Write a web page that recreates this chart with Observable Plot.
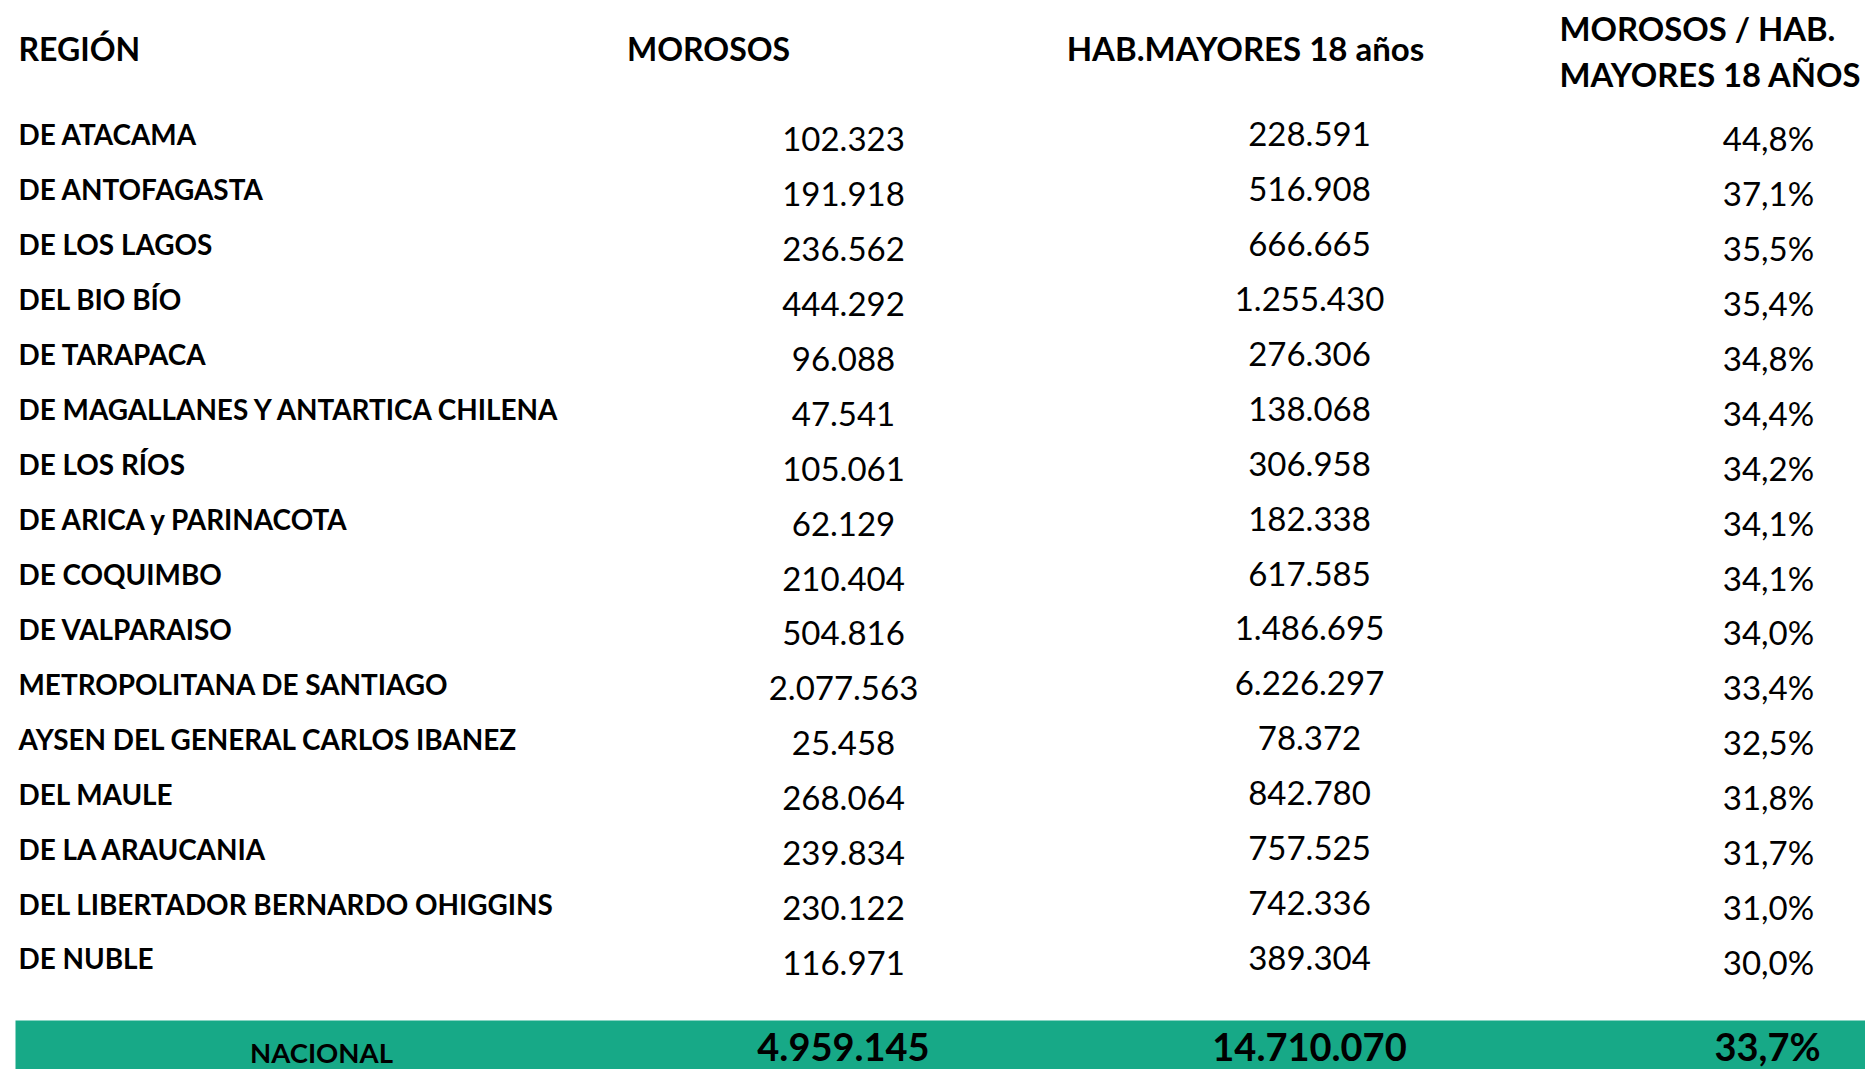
<!DOCTYPE html>
<html>
<head>
<meta charset="utf-8">
<script src="https://cdn.jsdelivr.net/npm/d3@7"></script>
<script src="https://cdn.jsdelivr.net/npm/@observablehq/plot@0.6"></script>
<style>
  html, body { margin: 0; padding: 0; background: #ffffff; }
  #chart { width: 1865px; }
  #chart svg { display: block; }
</style>
</head>
<body>
<div id="chart"></div>
<script>
// ---- data ----
const columns = ["MOROSOS", "HAB.MAYORES 18 años", "MOROSOS / HAB. MAYORES 18 AÑOS"];
const regions = [
  "DE ATACAMA", "DE ANTOFAGASTA", "DE LOS LAGOS", "DEL BIO BÍO", "DE TARAPACA",
  "DE MAGALLANES Y ANTARTICA CHILENA", "DE LOS RÍOS", "DE ARICA y PARINACOTA",
  "DE COQUIMBO", "DE VALPARAISO", "METROPOLITANA DE SANTIAGO",
  "AYSEN DEL GENERAL CARLOS IBANEZ", "DEL MAULE", "DE LA ARAUCANIA",
  "DEL LIBERTADOR BERNARDO OHIGGINS", "DE NUBLE"
];
const morosos = [102323, 191918, 236562, 444292, 96088, 47541, 105061, 62129,
  210404, 504816, 2077563, 25458, 268064, 239834, 230122, 116971];
const habitantes = [228591, 516908, 666665, 1255430, 276306, 138068, 306958, 182338,
  617585, 1486695, 6226297, 78372, 842780, 757525, 742336, 389304];
const ratio = [44.8, 37.1, 35.5, 35.4, 34.8, 34.4, 34.2, 34.1,
  34.1, 34.0, 33.4, 32.5, 31.8, 31.7, 31.0, 30.0];
const totalLabel = "NACIONAL";
const totalMorosos = 4959145;
const totalHabitantes = 14710070;
const totalRatio = 33.7;

// ---- build ----
const loc = d3.formatLocale({decimal: ",", thousands: ".", grouping: [3], currency: ["$", ""]});
const fInt = loc.format(",d");
const fPct = v => loc.format(".1f")(v) + "%";

const rows = regions.map((r, i) => ({region: r, morosos: morosos[i], hab: habitantes[i], ratio: ratio[i]}));

const FONT = "Lato";
const GREEN = "#17A987";
const W = 1865;

const xScale = {type: "point", domain: columns, range: [843, 1775], padding: 0, round: false, axis: null};

const table = Plot.plot({
  width: W,
  height: 1020,
  margin: 0,
  marginLeft: 18,
  style: {fontFamily: FONT, color: "#000", background: "#fff"},
  x: xScale,
  y: {type: "point", domain: regions, range: [136, 960], padding: 0, round: false, axis: null},
  marks: [
    // header row
    Plot.text(["REGIÓN"], {frameAnchor: "top-left", textAnchor: "start", dy: 50, lineAnchor: "middle",
      fontSize: 32, fontWeight: "bold", fill: "#000"}),
    Plot.text([columns[0]], {x: d => d, frameAnchor: "top", dy: 50, dx: -135, lineAnchor: "middle",
      fontSize: 32, fontWeight: "bold", fill: "#000"}),
    Plot.text([columns[1]], {x: d => d, frameAnchor: "top", dy: 50, dx: -64, lineAnchor: "middle",
      fontSize: 33, fontWeight: "bold", fill: "#000"}),
    Plot.text([columns[2]], {x: d => d, text: () => "MOROSOS / HAB.\nMAYORES 18 AÑOS",
      frameAnchor: "top", dy: 49, dx: -216, textAnchor: "start", lineAnchor: "middle", lineHeight: 1.38,
      fontSize: 32.8, fontWeight: "bold", fill: "#000"}),
    // region labels
    Plot.text(rows, {y: "region", text: "region", frameAnchor: "left", textAnchor: "start",
      fontSize: 27.9, fontWeight: "bold", fill: "#000"}),
    // values
    Plot.text(rows, {x: () => columns[0], y: "region", text: d => fInt(d.morosos), dy: 4,
      fontSize: 33, fill: "#000"}),
    Plot.text(rows, {x: () => columns[1], y: "region", text: d => fInt(d.hab), dy: -1,
      fontSize: 33, fill: "#000"}),
    Plot.text(rows, {x: () => columns[2], y: "region", text: d => fPct(d.ratio), dy: 4, dx: -7,
      fontSize: 33, fill: "#000"})
  ]
});

const totals = [{label: totalLabel, morosos: totalMorosos, hab: totalHabitantes, ratio: totalRatio}];

const footer = Plot.plot({
  width: W,
  height: 49,
  margin: 0,
  marginLeft: 15,
  style: {fontFamily: FONT, color: "#000", background: "#fff"},
  x: xScale,
  marks: [
    Plot.frame({fill: GREEN, stroke: "none"}),
    Plot.text(totals, {text: "label", frameAnchor: "left", textAnchor: "middle", dx: 306, dy: 9,
      fontSize: 27.5, fontWeight: "bold", fill: "#000"}),
    Plot.text(totals, {x: () => columns[0], text: d => fInt(d.morosos), frameAnchor: "middle", dy: 4,
      fontSize: 38, fontWeight: "bold", fill: "#000"}),
    Plot.text(totals, {x: () => columns[1], text: d => fInt(d.hab), frameAnchor: "middle", dy: 4,
      fontSize: 38, fontWeight: "bold", fill: "#000"}),
    Plot.text(totals, {x: () => columns[2], text: d => fPct(d.ratio), frameAnchor: "middle", dy: 4, dx: -8,
      fontSize: 38, fontWeight: "bold", fill: "#000"})
  ]
});

const el = document.getElementById("chart");
el.appendChild(table);
el.appendChild(footer);
</script>
</body>
</html>
